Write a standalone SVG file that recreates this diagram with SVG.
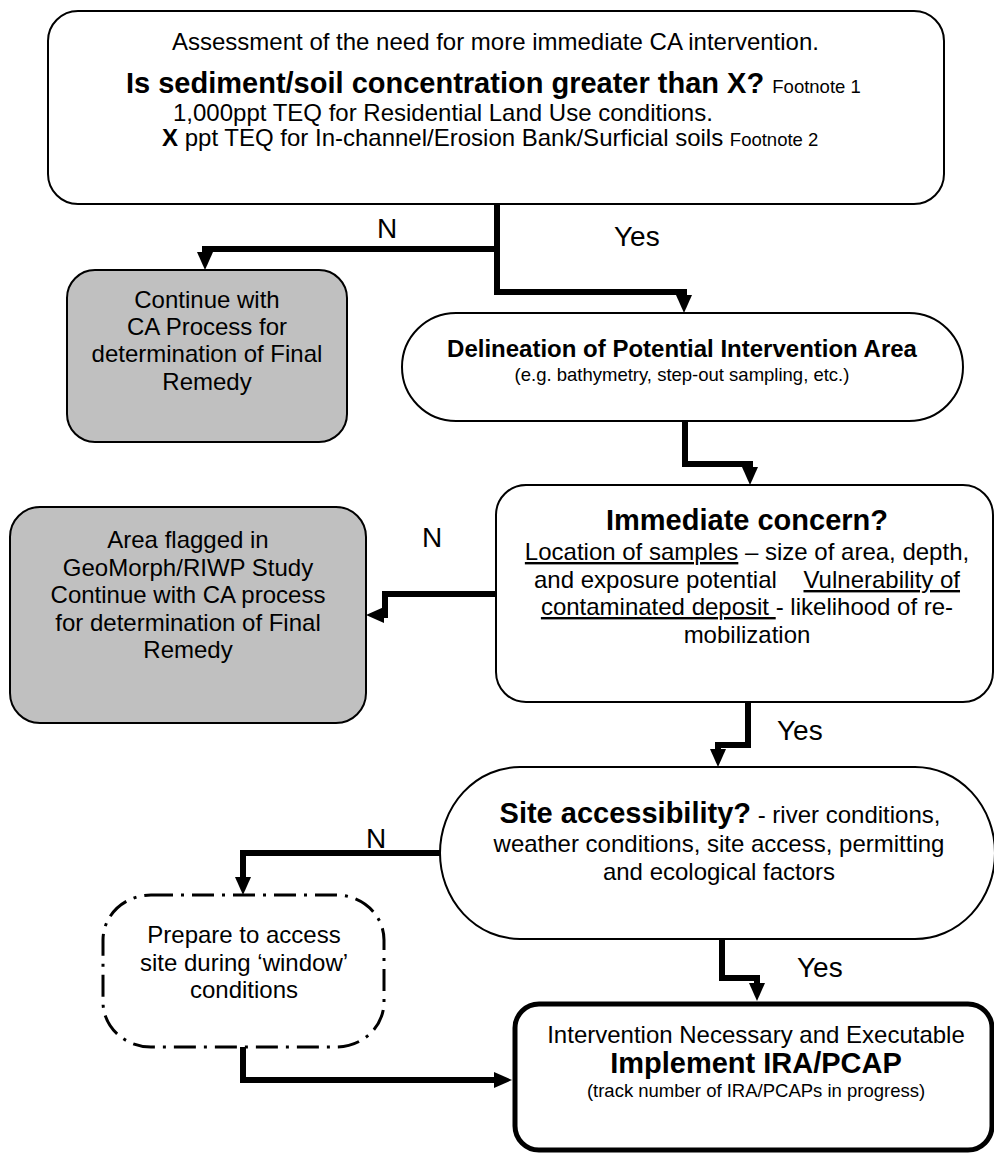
<svg xmlns="http://www.w3.org/2000/svg" width="994" height="1154" viewBox="0 0 994 1154">
<style>
text{font-family:"Liberation Sans",Arial,Helvetica,sans-serif;fill:#000}
.t24{font-size:24px}
.t18{font-size:18.5px}
.b29{font-size:29px;font-weight:bold}
.b24{font-size:24px;font-weight:bold}
.lbl{font-size:28px}
.node{fill:#fff;stroke:#000;stroke-width:2}
.gray{fill:#c0c0c0;stroke:#000;stroke-width:2}
.thick{fill:#fff;stroke:#000;stroke-width:5}
.dashdot{fill:#fff;stroke:#000;stroke-width:3;stroke-dasharray:22 8 3 8}
.conn{fill:none;stroke:#000;stroke-width:6;stroke-linejoin:miter}
.u{text-decoration:underline}
</style>
<defs>
<marker id="ah" markerUnits="userSpaceOnUse" viewBox="0 0 18 16" markerWidth="18" markerHeight="16" refX="0" refY="8" orient="auto">
<path d="M0,0 L18,8 L0,16 z" fill="#000"/>
</marker>
</defs>

<g id="connectors">
<path class="conn" d="M497,204 V292 H684 V295" marker-end="url(#ah)"/>
<path class="conn" d="M497,249 H205 V252" marker-end="url(#ah)"/>
<path class="conn" d="M685,421 V464 H750 V467" marker-end="url(#ah)"/>
<path class="conn" d="M496,594 H385 V615 H384" marker-end="url(#ah)"/>
<path class="conn" d="M748,702 V745 H718 V749" marker-end="url(#ah)"/>
<path class="conn" d="M440,853 H243 V877" marker-end="url(#ah)"/>
<path class="conn" d="M243,1047 V1080 H494" marker-end="url(#ah)"/>
<path class="conn" d="M722,939 V978 H757 V983" marker-end="url(#ah)"/>
<text class="lbl" x="377" y="238">N</text>
<text class="lbl" x="614" y="246">Yes</text>
<text class="lbl" x="422" y="547">N</text>
<text class="lbl" x="777" y="740">Yes</text>
<text class="lbl" x="366" y="848">N</text>
<text class="lbl" x="797" y="977">Yes</text>
</g>

<g id="assessment">
<rect class="node" x="48" y="11" width="896" height="193" rx="30"/>
<text class="t24" x="172" y="50">Assessment of the need for more immediate CA intervention.</text>
<text x="126" y="93"><tspan class="b29">Is sediment/soil concentration greater than X?</tspan><tspan class="t18" dx="3"> Footnote 1</tspan></text>
<text class="t24" x="173" y="121">1,000ppt TEQ for Residential Land Use conditions.</text>
<text class="t24" x="162" y="146"><tspan font-weight="bold">X</tspan> ppt TEQ for In-channel/Erosion Bank/Surficial soils <tspan class="t18">Footnote 2</tspan></text>
</g>

<g id="continue">
<rect class="gray" x="67" y="270" width="280" height="172" rx="28"/>
<text class="t24" text-anchor="middle" x="207" y="308">Continue with</text>
<text class="t24" text-anchor="middle" x="207" y="335">CA Process for</text>
<text class="t24" text-anchor="middle" x="207" y="362">determination of Final</text>
<text class="t24" text-anchor="middle" x="207" y="390">Remedy</text>
</g>

<g id="delineation">
<rect class="node" x="402" y="313" width="561" height="108" rx="54"/>
<text class="b24" text-anchor="middle" x="682" y="357">Delineation of Potential Intervention Area</text>
<text class="t18" text-anchor="middle" x="682" y="381">(e.g. bathymetry, step-out sampling, etc.)</text>
</g>

<g id="immediate">
<rect class="node" x="496" y="485" width="497" height="217" rx="30"/>
<text class="b29" text-anchor="middle" x="747" y="530">Immediate concern?</text>
<text class="t24" text-anchor="middle" x="747" y="560"><tspan class="u">Location of samples</tspan> – size of area, depth,</text>
<text class="t24" text-anchor="middle" x="747" y="588">and exposure potential <tspan class="u" dx="20">Vulnerability of</tspan></text>
<text class="t24" text-anchor="middle" x="747" y="615"><tspan class="u">contaminated deposit </tspan>- likelihood of re-</text>
<text class="t24" text-anchor="middle" x="747" y="643">mobilization</text>
</g>

<g id="area-flagged">
<rect class="gray" x="10" y="507" width="356" height="216" rx="30"/>
<text class="t24" text-anchor="middle" x="188" y="548">Area flagged in</text>
<text class="t24" text-anchor="middle" x="188" y="576">GeoMorph/RIWP Study</text>
<text class="t24" text-anchor="middle" x="188" y="603">Continue with CA process</text>
<text class="t24" text-anchor="middle" x="188" y="631">for determination of Final</text>
<text class="t24" text-anchor="middle" x="188" y="658">Remedy</text>
</g>

<g id="site-accessibility">
<rect class="node" x="440" y="767" width="555" height="172" rx="80" ry="86"/>
<text class="t24" text-anchor="middle" x="720" y="823"><tspan class="b29">Site accessibility?</tspan> - river conditions,</text>
<text class="t24" text-anchor="middle" x="719" y="852">weather conditions, site access, permitting</text>
<text class="t24" text-anchor="middle" x="719" y="880">and ecological factors</text>
</g>

<g id="prepare">
<rect class="dashdot" x="103" y="895" width="281" height="152" rx="48" ry="45"/>
<text class="t24" text-anchor="middle" x="244" y="943">Prepare to access</text>
<text class="t24" text-anchor="middle" x="244" y="971">site during ‘window’</text>
<text class="t24" text-anchor="middle" x="244" y="998">conditions</text>
</g>

<g id="implement">
<rect class="thick" x="515" y="1004" width="477" height="146" rx="24"/>
<text class="t24" text-anchor="middle" x="756" y="1043">Intervention Necessary and Executable</text>
<text class="b29" text-anchor="middle" x="756" y="1073">Implement IRA/PCAP</text>
<text class="t18" text-anchor="middle" x="756" y="1097">(track number of IRA/PCAPs in progress)</text>
</g>
</svg>
